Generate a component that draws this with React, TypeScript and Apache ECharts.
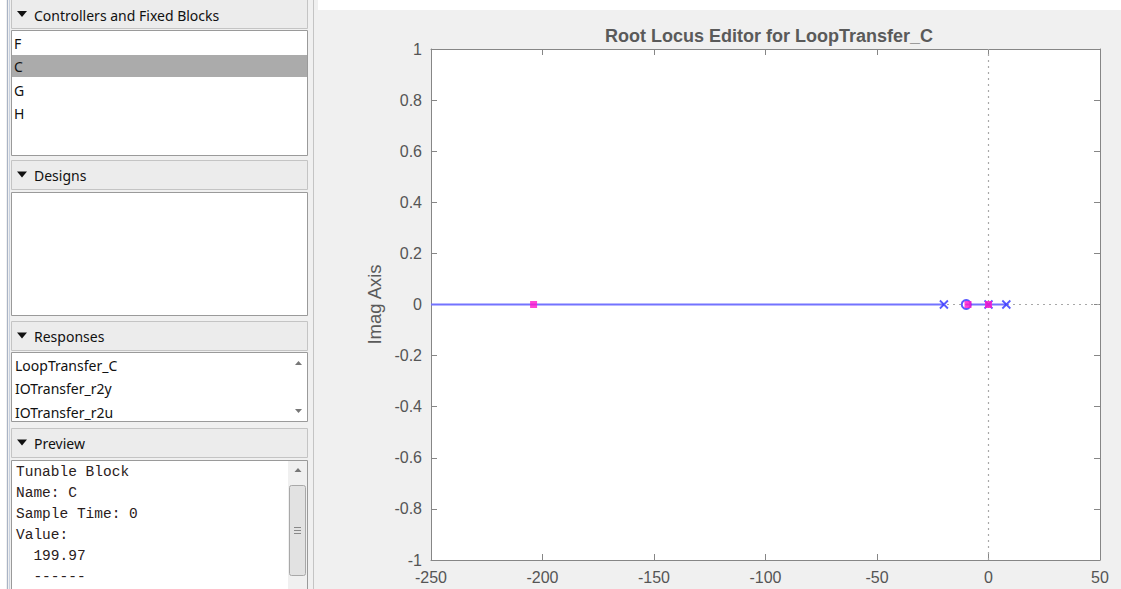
import React, { useEffect, useRef } from "react";
import * as echarts from "echarts";

// ---- data ----
const xTicks = [-250, -200, -150, -100, -50, 0, 50];
const yTicks = [-1, -0.8, -0.6, -0.4, -0.2, 0, 0.2, 0.4, 0.6, 0.8, 1];
const locusSegmentA = [[-250, 0], [-20, 0]];
const locusSegmentB = [[-10, 0], [8, 0]];
const openLoopPoles = [[-20, 0], [0, 0], [8, 0]];
const openLoopZeros = [[-10, 0]];
const closedLoopPoles = [[-204, 0], [-9.2, 0], [0, 0]];
const controllerItems = ["F", "C", "G", "H"];
const responseItems = ["LoopTransfer_C", "IOTransfer_r2y", "IOTransfer_r2u"];
const previewLines = ["Tunable Block", "Name: C", "Sample Time: 0", "Value:", "  199.97", "  ------"];

const UI_FONT = "'Noto Sans', 'DejaVu Sans', sans-serif";
const MONO_FONT = "'Liberation Mono', 'DejaVu Sans Mono', monospace";
const AX_FONT = "'Liberation Sans', Arial, sans-serif";

function header(y: number, h: number, label: string, textY?: number) {
  const ty = textY ?? y + h / 2 + 1;
  return [
    { type: "rect", shape: { x: 11.5, y: y + 0.5, width: 296, height: h }, style: { fill: "#ececec", stroke: "#c4c4c4", lineWidth: 1 } },
    { type: "polygon", shape: { points: [[17, ty - 4], [27, ty - 4], [22, ty + 2]] }, style: { fill: "#111" } },
    { type: "text", x: 34, y: ty, style: { text: label, font: `14px ${UI_FONT}`, fill: "#111", textVerticalAlign: "middle" } },
  ];
}

function box(y: number, h: number) {
  return [
    { type: "rect", shape: { x: 11.5, y: y + 0.5, width: 296, height: h }, style: { fill: "#ffffff", stroke: "#9a9a9a", lineWidth: 1 } },
  ];
}

function buildGraphics() {
  const g: any[] = [];
  g.push({ type: "rect", shape: { x: 318, y: 0, width: 803, height: 10 }, style: { fill: "#ffffff" } });
  g.push({ type: "rect", shape: { x: 0, y: 0, width: 6, height: 589 }, style: { fill: "#ffffff" } });
  g.push({ type: "line", shape: { x1: 7.5, y1: 0, x2: 7.5, y2: 589 }, style: { stroke: "#a9b4c6", lineWidth: 1 } });
  g.push({ type: "line", shape: { x1: 9.5, y1: 0, x2: 9.5, y2: 589 }, style: { stroke: "#c9d2e0", lineWidth: 1 } });
  g.push({ type: "line", shape: { x1: 313.5, y1: 0, x2: 313.5, y2: 589 }, style: { stroke: "#c4c4c4", lineWidth: 1 } });

  // Controllers
  g.push(...header(-5, 33, "Controllers and Fixed Blocks", 15));
  g.push(...box(30, 125));
  g.push({ type: "rect", shape: { x: 12, y: 55, width: 295, height: 22 }, style: { fill: "#ababab" } });
  controllerItems.forEach((t, i) => {
    g.push({ type: "text", x: 14, y: 43 + i * 23.5, style: { text: t, font: `14px ${UI_FONT}`, fill: "#111", textVerticalAlign: "middle" } });
  });

  // Designs
  g.push(...header(160, 29, "Designs"));
  g.push(...box(192, 123));

  // Responses
  g.push(...header(321, 29, "Responses"));
  g.push(...box(352, 69));
  responseItems.forEach((t, i) => {
    g.push({ type: "text", x: 15, y: 365 + i * 23.5, style: { text: t, font: `14px ${UI_FONT}`, fill: "#111", textVerticalAlign: "middle" } });
  });
  g.push({ type: "polygon", shape: { points: [[295, 365], [302, 365], [298.5, 361]] }, style: { fill: "#777" } });
  g.push({ type: "polygon", shape: { points: [[295, 409], [302, 409], [298.5, 413]] }, style: { fill: "#777" } });

  // Preview
  g.push(...header(428, 29, "Preview"));
  g.push(...box(460, 140));
  previewLines.forEach((t, i) => {
    g.push({ type: "text", x: 16, y: 471.5 + i * 21, style: { text: t, font: `14.5px ${MONO_FONT}`, fill: "#2a2020", textVerticalAlign: "middle" } });
  });
  g.push({ type: "rect", shape: { x: 288, y: 461, width: 19, height: 128 }, style: { fill: "#f0f0f0" } });
  g.push({ type: "polygon", shape: { points: [[294.5, 472], [301.5, 472], [298, 468]] }, style: { fill: "#777" } });
  g.push({ type: "rect", shape: { x: 289.5, y: 485.5, width: 16, height: 90, r: 2 }, style: { fill: "#e2e2e2", stroke: "#a8a8a8", lineWidth: 1 } });
  [527, 530, 533].forEach((yy) => {
    g.push({ type: "line", shape: { x1: 294, y1: yy + 0.5, x2: 301, y2: yy + 0.5 }, style: { stroke: "#888", lineWidth: 1 } });
  });
  return g;
}

const xMark = "path://M0,0L10,10M10,0L0,10";

export default function App() {
  const ref = useRef<HTMLDivElement>(null);
  useEffect(() => {
    document.body.style.margin = "0";
    const chart = echarts.init(ref.current!, null, { renderer: "svg" });
    const axisLineStyle = { color: "#868686", width: 1 };
    const commonX = {
      type: "value",
      min: xTicks[0],
      max: xTicks[xTicks.length - 1],
      interval: 50,
      splitLine: { show: false },
      axisLine: { show: true, onZero: false, lineStyle: axisLineStyle },
      axisTick: { show: true, inside: true, length: 6, lineStyle: axisLineStyle },
    };
    const commonY = {
      type: "value",
      min: yTicks[0],
      max: yTicks[yTicks.length - 1],
      interval: 0.2,
      splitLine: { show: false },
      axisLine: { show: true, onZero: false, lineStyle: axisLineStyle },
      axisTick: { show: true, inside: true, length: 6, lineStyle: axisLineStyle },
    };
    chart.setOption({
      animation: false,
      backgroundColor: "#f0f0f0",
      title: {
        text: "Root Locus Editor for LoopTransfer_C",
        left: 764,
        top: 22,
        textAlign: "center",
        textStyle: { fontFamily: AX_FONT, fontSize: 18, fontWeight: "bold", color: "#5a5a5a" },
      },
      grid: { left: 431, right: 21, top: 49, bottom: 29, show: true, backgroundColor: "#ffffff", borderWidth: 0 },
      xAxis: [
        { ...commonX, position: "bottom", axisLabel: { show: true, margin: 9, fontFamily: AX_FONT, fontSize: 16, color: "#555555" } },
        { ...commonX, position: "top", axisLabel: { show: false } },
      ],
      yAxis: [
        { ...commonY, position: "left", name: "Imag Axis", nameLocation: "middle", nameGap: 41, nameTextStyle: { fontFamily: AX_FONT, fontSize: 18.5, color: "#5a5a5a" }, axisLabel: { show: true, margin: 9, fontFamily: AX_FONT, fontSize: 16, color: "#555555" } },
        { ...commonY, position: "right", axisLabel: { show: false } },
      ],
      graphic: buildGraphics(),
      series: [
        { type: "line", data: [[xTicks[0], 0], [xTicks[xTicks.length - 1], 0]], symbol: "none", lineStyle: { color: "#a8a8a8", width: 1.2, type: [2, 4] }, z: 1, silent: true },
        { type: "line", data: [[0, yTicks[0]], [0, yTicks[yTicks.length - 1]]], symbol: "none", lineStyle: { color: "#a8a8a8", width: 1.2, type: [2, 4] }, z: 1, silent: true },
        { type: "line", data: locusSegmentA, symbol: "none", lineStyle: { color: "#7373ff", width: 2 }, z: 2 },
        { type: "line", data: locusSegmentB, symbol: "none", lineStyle: { color: "#7373ff", width: 2 }, z: 2 },
        { type: "scatter", data: openLoopPoles, symbol: xMark, symbolSize: 8, itemStyle: { color: "none", borderColor: "#2f2fff", borderWidth: 1.8 }, z: 3 },
        { type: "scatter", data: openLoopZeros, symbol: "circle", symbolSize: 9, itemStyle: { color: "none", borderColor: "#2f2fff", borderWidth: 2 }, z: 3 },
        { type: "scatter", data: closedLoopPoles, symbol: "rect", symbolSize: 7, itemStyle: { color: "#ff14cc" }, z: 4 },
      ],
    });
    return () => chart.dispose();
  }, []);
  return <div ref={ref} style={{ position: "fixed", left: 0, top: 0, width: 1121, height: 589 }} />;
}
